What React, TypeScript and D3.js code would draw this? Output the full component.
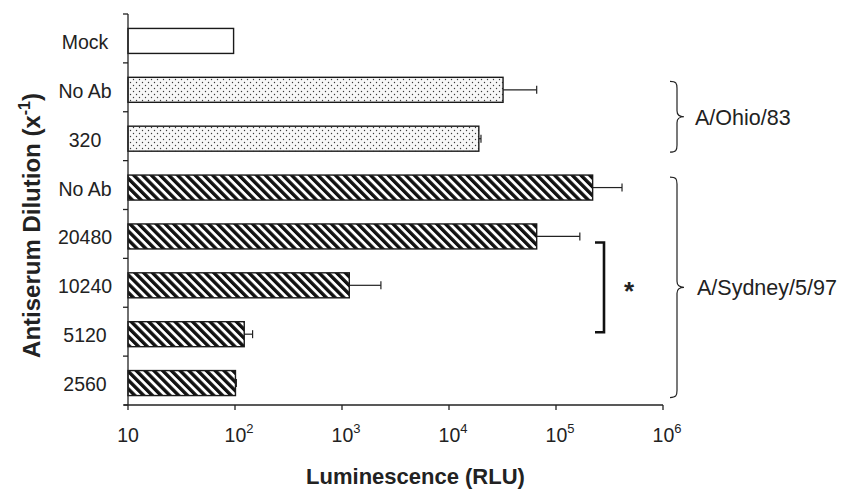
import React from 'react';
import * as d3 from 'd3';

// data
const categories = ['Mock', 'No Ab', '320', 'No Ab', '20480', '10240', '5120', '2560'];
const groups = ['mock', 'ohio', 'ohio', 'sydney', 'sydney', 'sydney', 'sydney', 'sydney'];
const values = [97, 32000, 19000, 220000, 66000, 1170, 122, 101];
const errorTops = [null, 66000, 19900, 414000, 167000, 2310, 146, 103];
const xTicks = [10, 100, 1000, 10000, 100000, 1000000];
const strainLabels = ['A/Ohio/83', 'A/Sydney/5/97'];

const W = 843;
const H = 491;
const left = 128;
const right = 663;
const top = 14;
const bottom = 405;
const barH = 25;
const barShift = 2.5;
const font = '"Liberation Sans", Arial, Helvetica, sans-serif';

const fillFor = (g: string) => (g === 'mock' ? '#fff' : g === 'ohio' ? 'url(#dots)' : 'url(#hatch)');

// curly brace opening to the left, tip pointing right
const bracePath = (x: number, y0: number, y1: number) => {
  const ym = (y0 + y1) / 2;
  const c = 7;
  return `M${x - 7},${y0} C${x - 1},${y0} ${x},${y0 + 2} ${x},${y0 + c}
    L${x},${ym - 6} C${x},${ym - 2} ${x + 3},${ym} ${x + 7},${ym}
    C${x + 3},${ym} ${x},${ym + 2} ${x},${ym + 6}
    L${x},${y1 - c} C${x},${y1 - 2} ${x - 1},${y1} ${x - 7},${y1}`;
};

export default function App() {
  const x = d3.scaleLog().domain([10, 1e6]).range([left, right]);
  const y = d3.scaleBand<number>().domain(categories.map((_, i) => i)).range([top, bottom]);
  const bw = y.bandwidth();
  const barY = (i: number) => (y(i) as number) + (bw - barH) / 2 + barShift;
  const barMid = (i: number) => barY(i) + barH / 2;

  const ohio = [1, 2];
  const sydney = [3, 7];
  const braceX = 677;
  const ohioY0 = barY(ohio[0]) + 4;
  const ohioY1 = barY(ohio[1]) + barH + 1;
  const sydY0 = barY(sydney[0]) + 2;
  const sydY1 = barY(sydney[1]) + barH + 2;

  const sigTop = barMid(4) + 6;
  const sigBot = barMid(6) - 2;
  const sigX = 604;

  const bandEdges = d3.range(categories.length + 1).map((i) => top + i * bw);

  return (
    <svg width={W} height={H} style={{ position: 'absolute', left: 0, top: 0, background: '#fff' }} fontFamily={font}>
      <defs>
        <pattern id="hatch" patternUnits="userSpaceOnUse" width={6.2} height={6.2} patternTransform="rotate(-45)">
          <rect width={6.2} height={6.2} fill="#fff" />
          <rect width={3.4} height={6.2} fill="#111" />
        </pattern>
        <pattern id="dots" patternUnits="userSpaceOnUse" width={6} height={6}>
          <rect width={6} height={6} fill="#f7f7f7" />
          <circle cx={1.5} cy={1.5} r={0.7} fill="#3a3a3a" />
          <circle cx={4.5} cy={4.5} r={0.7} fill="#3a3a3a" />
        </pattern>
      </defs>

      {/* bars */}
      {values.map((v, i) => (
        <rect key={i} x={x(10)} y={barY(i)} width={x(v) - x(10)} height={barH}
          fill={fillFor(groups[i])} stroke="#1a1a1a" strokeWidth={1.4} />
      ))}

      {/* error bars */}
      {errorTops.map((e, i) => e == null ? null : (
        <g key={i} stroke="#222" strokeWidth={1.2}>
          <line x1={x(values[i])} x2={x(e)} y1={barMid(i)} y2={barMid(i)} />
          <line x1={x(e)} x2={x(e)} y1={barMid(i) - 4} y2={barMid(i) + 4} />
        </g>
      ))}

      {/* y axis */}
      <line x1={left} x2={left} y1={top} y2={bottom} stroke="#222" strokeWidth={1.3} />
      {bandEdges.map((b, i) => (
        <line key={i} x1={left - 5} x2={left} y1={b} y2={b} stroke="#222" strokeWidth={1.3} />
      ))}
      {categories.map((c, i) => (
        <text key={i} x={left - 43} y={barMid(i) + 8} textAnchor="middle" fontSize={19.5} fill="#222">{c}</text>
      ))}

      {/* x axis */}
      <line x1={left - 4} x2={right} y1={bottom} y2={bottom} stroke="#222" strokeWidth={1.3} />
      {xTicks.map((t, i) => (
        <g key={t}>
          <line x1={x(t)} x2={x(t)} y1={bottom} y2={bottom + 5} stroke="#222" strokeWidth={1.3} />
          {i === 0 ? (
            <text x={x(t)} y={442} textAnchor="middle" fontSize={19.5} fill="#222">10</text>
          ) : (
            <text x={x(t) + 4} y={442} textAnchor="middle" fontSize={19.5} fill="#222">
              10<tspan fontSize={13} dy={-9}>{Math.round(Math.log10(t))}</tspan>
            </text>
          )}
        </g>
      ))}

      {/* axis titles */}
      <text x={(left + right) / 2 + 20} y={484} textAnchor="middle" fontSize={22} fontWeight="bold" fill="#222">
        Luminescence (RLU)
      </text>
      <text transform={`translate(40,${(top + bottom) / 2 + 16}) rotate(-90)`} textAnchor="middle"
        fontSize={24} fontWeight="bold" fill="#222">
        Antiserum Dilution (x<tspan fontSize={16} dy={-10}>-1</tspan><tspan dy={10}>)</tspan>
      </text>

      {/* significance bracket */}
      <path d={`M${sigX - 9},${sigTop} H${sigX} V${sigBot} H${sigX - 9}`} fill="none" stroke="#111" strokeWidth={2.6} />
      <text x={629} y={300} textAnchor="middle" fontSize={26} fontWeight="bold" fill="#222">*</text>

      {/* strain braces */}
      <path d={bracePath(braceX, ohioY0, ohioY1)} fill="none" stroke="#222" strokeWidth={1.2} />
      <text x={695} y={(ohioY0 + ohioY1) / 2 + 8} fontSize={21.5} fill="#222">{strainLabels[0]}</text>
      <path d={bracePath(braceX, sydY0, sydY1)} fill="none" stroke="#222" strokeWidth={1.2} />
      <text x={697} y={(sydY0 + sydY1) / 2 + 8} fontSize={21.5} fill="#222">{strainLabels[1]}</text>
    </svg>
  );
}
